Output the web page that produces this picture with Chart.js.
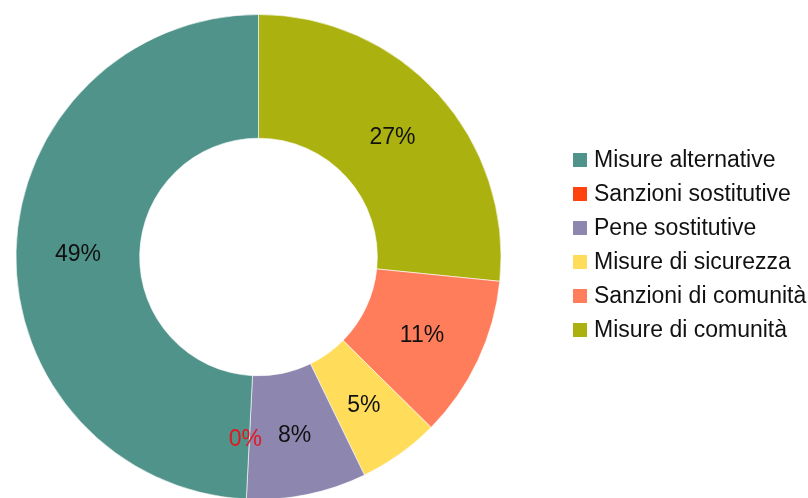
<!DOCTYPE html>
<html>
<head>
<meta charset="utf-8">
<script src="https://cdn.jsdelivr.net/npm/chart.js@4/dist/chart.umd.min.js"></script>
<style>
  html, body { margin: 0; padding: 0; background: #ffffff; overflow: hidden; }
  #wrap { position: relative; width: 808px; height: 500px; }
</style>
</head>
<body>
<div id="wrap"><canvas id="c"></canvas></div>
<script>
// Legend order (top to bottom)
const categories = [
  "Misure alternative",
  "Sanzioni sostitutive",
  "Pene sostitutive",
  "Misure di sicurezza",
  "Sanzioni di comunità",
  "Misure di comunità"
];
// Share of each category (%)
const values = [49.2, 0, 8.0, 5.4, 10.8, 26.6];
const colors = ["#50938a", "#ff420e", "#8d86ae", "#ffdc5a", "#ff7d5a", "#abb210"];
const labelColors = ["#111111", "#e3171f", "#111111", "#111111", "#111111", "#111111"];

// Slices run counter-clockwise in legend order, so feed them reversed
const rev = a => a.slice().reverse();
const total = values.reduce((s, v) => s + v, 0);
const FONT = '"Liberation Sans", Arial, sans-serif';

const sliceLabels = {
  id: 'sliceLabels',
  afterDatasetsDraw(chart) {
    const ctx = chart.ctx;
    const meta = chart.getDatasetMeta(0);
    const data = chart.data.datasets[0].data;
    const lc = chart.data.datasets[0].labelColors;
    ctx.save();
    ctx.font = '23px ' + FONT;
    ctx.textAlign = 'center';
    ctx.textBaseline = 'middle';
    meta.data.forEach((arc, i) => {
      const p = arc.getCenterPoint();
      ctx.fillStyle = lc[i];
      ctx.fillText(Math.round(data[i] / total * 100) + '%', p.x - (data[i] === 0 ? 4 : 0), p.y + 2);
    });
    ctx.restore();
  }
};

const customLegend = {
  id: 'customLegend',
  afterDraw(chart, args, opts) {
    const ctx = chart.ctx;
    ctx.save();
    ctx.font = '23px ' + FONT;
    ctx.textBaseline = 'middle';
    ctx.textAlign = 'left';
    categories.forEach((name, i) => {
      const y = opts.top + i * opts.step;
      ctx.fillStyle = colors[i];
      ctx.fillRect(opts.boxX, y - opts.box / 2, opts.box, opts.box);
      ctx.fillStyle = '#111111';
      ctx.fillText(name, opts.textX, y + 1);
    });
    ctx.restore();
  }
};

new Chart(document.getElementById('c'), {
  type: 'doughnut',
  data: {
    labels: rev(categories),
    datasets: [{
      data: rev(values),
      backgroundColor: rev(colors),
      labelColors: rev(labelColors),
      borderColor: 'rgba(255,255,255,0.6)',
      borderWidth: 1
    }]
  },
  options: {
    responsive: true,
    maintainAspectRatio: false,
    animation: false,
    cutout: '49%',
    rotation: 0,
    layout: { padding: { left: 15, right: 306, top: 14, bottom: 0 } },
    plugins: {
      legend: { display: false },
      tooltip: { enabled: false },
      customLegend: { boxX: 573, textX: 594, top: 160, step: 34, box: 14 }
    }
  },
  plugins: [sliceLabels, customLegend]
});
</script>
</body>
</html>
